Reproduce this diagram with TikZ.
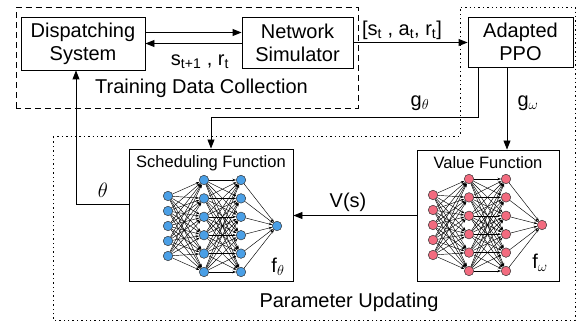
\documentclass[tikz,border=0pt]{standalone}
\usepackage{fontspec}
\setmainfont{Liberation Sans}
\usetikzlibrary{arrows.meta,positioning,calc}
\definecolor{NetBlue}{HTML}{4A9FE6}
\definecolor{NetPink}{HTML}{F26B7F}

\begin{document}
\begin{tikzpicture}[
        %Environment Cfg.
        x=1pt, y=1pt,
        font=\fontsize{20}{23}\selectfont,
        >={Triangle[length=9pt,width=7pt]},%from arrows.meta
        line width=0.9pt,
        %Environment Styles.
        sBox/.style={
            rectangle,
            draw,
            inner sep=2pt,
            align=center
        },
        nUnit/.style={
            circle,
            draw=black!80,
            line width=0.5pt,
            minimum size=9.5pt,
            inner sep=0pt
        },
        nEdge/.style={-{Stealth[length=3.5pt,width=2.5pt]}, line width=0.45pt},
        collect/.style={dash pattern=on 6pt off 4pt},
        update/.style={dash pattern=on 1.4pt off 3pt},
        subFont/.style={font=\fontsize{16.5}{18}\selectfont},
    ]
    \useasboundingbox (0,0) rectangle (584,329);
    %Small fully connected net: 5 -> 6 -> 6 -> 1
    %\Net[net name][fill colour]{input layer centre}
    \def\Net[#1][#2]#3{
        \begin{scope}[shift={(#3)}]
            \foreach \i in {1,...,5}
                \node[nUnit, fill=#2](#1-i-\i) at (0,{(3-\i)*15}){};
            \foreach \j in {1,...,6}{
                \node[nUnit, fill=#2](#1-h-\j) at (36,{(3.5-\j)*18.4}){};
                \node[nUnit, fill=#2](#1-g-\j) at (73,{(3.5-\j)*18.4}){};
            }
            \node[nUnit, fill=#2](#1-o) at (109,0){};
            \foreach \i in {1,...,5}
                \foreach \j in {1,...,6}
                    \draw[nEdge](#1-i-\i)--(#1-h-\j);
            \foreach \j in {1,...,6}{
                \foreach \k in {1,...,6}
                    \draw[nEdge](#1-h-\j)--(#1-g-\k);
                \draw[nEdge](#1-g-\j)--(#1-o);
            }
        \end{scope}
    }

    %Training data collection
    \node[sBox, minimum width=124pt, minimum height=53pt](DS) at (83,285.5){Dispatching\\System};
    \node[sBox, minimum width=111pt, minimum height=51pt](NS) at (297.5,286.5){Network\\Simulator};
    \node[sBox, minimum width=105pt, minimum height=50pt](PPO) at (520.5,287){Adapted\\PPO};
    \draw[collect] (16,221) rectangle (358,321.5);
    \node(TDC) at (201.5,241){Training Data Collection};

    %Parameter updating
    \node[sBox, minimum width=164pt, minimum height=132pt](SF) at (211,114){};
    \node[sBox, minimum width=142pt, minimum height=131pt](VF) at (488,113.5){};
    \node[subFont, below=3pt of SF.north](SF-T){Scheduling Function};
    \node[subFont, below=3pt of VF.north](VF-T){Value Function};
    \Net[SN][NetBlue]{168,103}
    \Net[VN][NetPink]{433,104}
    \node(FT) at (278,62){f$_\theta$};
    \node(FW) at (540,66){f$_\omega$};
    \draw[update] (53,193) -- (460,193) -- (460,322) -- (575,322) -- (575,9) -- (53,9) -- cycle;
    \node(PU) at (349,27){Parameter Updating};

    %Connections
    \draw[->]([yshift=11pt]DS.east)--([yshift=11pt]DS.east -| NS.west);
    \draw[->](NS.west |- DS.east)--(DS.east);
    \node(SR) at (200,267){s\textsubscript{t+1} , r\textsubscript{t}};
    \draw[->](NS.east)--(NS.east -| PPO.west);
    \node(SAR) at (402,299){[s\textsubscript{t} , a\textsubscript{t}, r\textsubscript{t}]};
    \draw[->]([xshift=-42.5pt]PPO.south) |- ($(SF.north)+(0,31)$) -- (SF.north);
    \node(GT) at (420,226){g$_\theta$};
    \draw[->]([xshift=-13.5pt]PPO.south)--([xshift=-13.5pt]PPO.south |- VF.north);
    \node(GW) at (528,226){g$_\omega$};
    \draw[->](VF.west)--(VF.west -| SF.east);
    \node(VS) at (348,127){V(s)};
    \draw[->]([yshift=11pt]SF.west) -| ([xshift=-7pt]DS.south);
    \node(TH) at (103,139){$\theta$};

\end{tikzpicture}
\end{document}
